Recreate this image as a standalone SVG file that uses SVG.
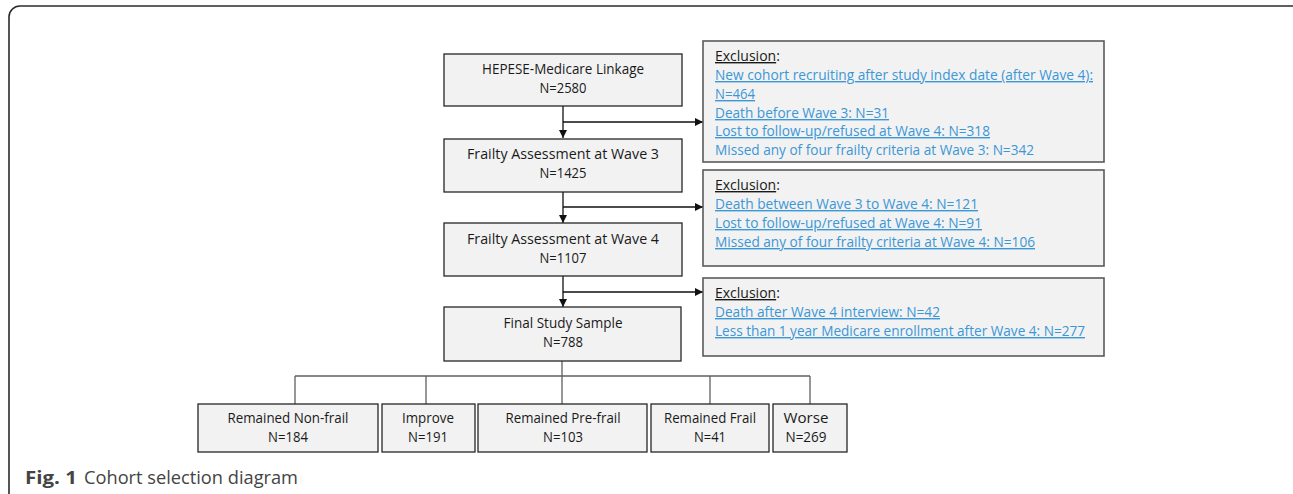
<svg xmlns="http://www.w3.org/2000/svg" width="1293" height="494" viewBox="0 0 1293 494">
<style>
.frame{fill:#fff;stroke:#2b2b2b;stroke-width:1.6}
.box{fill:#f2f2f2;stroke:#262626;stroke-width:1.3}
.xbox{fill:#f2f2f2;stroke:#5a5a5a;stroke-width:1.6}
.t{font-family:"Open Sans","Liberation Sans",sans-serif;font-size:14px;fill:#1a1a1a;text-anchor:middle}
.x{font-family:"Open Sans","Liberation Sans",sans-serif;font-size:14px;fill:#3b97d6}
.u{text-decoration:underline}
.k{fill:#1a1a1a}
.arr{fill:none;stroke:#111;stroke-width:1.3}
.tree{fill:none;stroke:#5f5f5f;stroke-width:1.3}
.cap{font-family:"Open Sans","Liberation Sans",sans-serif;font-size:18px;fill:#444}
</style>
<defs>
<marker id="ah" viewBox="0 0 10 10" refX="10" refY="5" markerWidth="8" markerHeight="8" markerUnits="userSpaceOnUse" orient="auto">
<path d="M0,0 L10,5 L0,10 z" fill="#111"/>
</marker>
</defs>
<rect class="frame" x="9" y="6" width="1300" height="500" rx="11"/>
<g id="connectors">
<line class="arr" x1="563" y1="106" x2="563" y2="138" marker-end="url(#ah)"/>
<line class="arr" x1="563" y1="122" x2="703" y2="122" marker-end="url(#ah)"/>
<line class="arr" x1="563" y1="192" x2="563" y2="223" marker-end="url(#ah)"/>
<line class="arr" x1="563" y1="207" x2="703" y2="207" marker-end="url(#ah)"/>
<line class="arr" x1="563" y1="276" x2="563" y2="307" marker-end="url(#ah)"/>
<line class="arr" x1="563" y1="292" x2="703" y2="292" marker-end="url(#ah)"/>
<line class="tree" x1="562" y1="361" x2="562" y2="404"/>
<line class="tree" x1="295" y1="376" x2="810" y2="376"/>
<line class="tree" x1="295" y1="376" x2="295" y2="404"/>
<line class="tree" x1="426" y1="376" x2="426" y2="404"/>
<line class="tree" x1="710" y1="376" x2="710" y2="404"/>
<line class="tree" x1="810" y1="376" x2="810" y2="404"/>
</g>
<g id="linkage">
<rect class="box" x="444" y="54" width="238" height="52"/>
<text class="t" x="563" y="74" textLength="162" lengthAdjust="spacingAndGlyphs">HEPESE-Medicare Linkage</text>
<text class="t" x="563" y="93" textLength="47" lengthAdjust="spacingAndGlyphs">N=2580</text>
</g>
<g id="wave3">
<rect class="box" x="444" y="139" width="238" height="53"/>
<text class="t" x="563" y="159" textLength="192" lengthAdjust="spacingAndGlyphs">Frailty Assessment at Wave 3</text>
<text class="t" x="563" y="178" textLength="47" lengthAdjust="spacingAndGlyphs">N=1425</text>
</g>
<g id="wave4">
<rect class="box" x="444" y="223" width="238" height="53"/>
<text class="t" x="563" y="244" textLength="192" lengthAdjust="spacingAndGlyphs">Frailty Assessment at Wave 4</text>
<text class="t" x="563" y="263" textLength="47" lengthAdjust="spacingAndGlyphs">N=1107</text>
</g>
<g id="final">
<rect class="box" x="444" y="307" width="237" height="54"/>
<text class="t" x="563" y="328" textLength="119" lengthAdjust="spacingAndGlyphs">Final Study Sample</text>
<text class="t" x="563" y="347" textLength="40" lengthAdjust="spacingAndGlyphs">N=788</text>
</g>
<g id="excl1">
<rect class="xbox" x="703" y="41" width="401" height="121"/>
<text class="x" x="715" y="61"><tspan class="k u">Exclusion</tspan><tspan class="k">:</tspan></text>
<text class="x u" x="715" y="80" textLength="378" lengthAdjust="spacingAndGlyphs">New cohort recruiting after study index date (after Wave 4):</text>
<text class="x u" x="715" y="99" textLength="40" lengthAdjust="spacingAndGlyphs">N=464</text>
<text class="x u" x="715" y="118" textLength="174" lengthAdjust="spacingAndGlyphs">Death before Wave 3: N=31</text>
<text class="x u" x="715" y="136" textLength="275" lengthAdjust="spacingAndGlyphs">Lost to follow-up/refused at Wave 4: N=318</text>
<text class="x" x="715" y="155" textLength="319" lengthAdjust="spacingAndGlyphs">Missed any of four frailty criteria at Wave 3: N=342</text>
</g>
<g id="excl2">
<rect class="xbox" x="703" y="170" width="401" height="96"/>
<text class="x" x="715" y="190"><tspan class="k u">Exclusion</tspan><tspan class="k">:</tspan></text>
<text class="x u" x="715" y="209" textLength="263" lengthAdjust="spacingAndGlyphs">Death between Wave 3 to Wave 4: N=121</text>
<text class="x u" x="715" y="228" textLength="267" lengthAdjust="spacingAndGlyphs">Lost to follow-up/refused at Wave 4: N=91</text>
<text class="x u" x="715" y="247" textLength="320" lengthAdjust="spacingAndGlyphs">Missed any of four frailty criteria at Wave 4: N=106</text>
</g>
<g id="excl3">
<rect class="xbox" x="703" y="278" width="401" height="78"/>
<text class="x" x="715" y="298"><tspan class="k u">Exclusion</tspan><tspan class="k">:</tspan></text>
<text class="x u" x="715" y="317" textLength="225" lengthAdjust="spacingAndGlyphs">Death after Wave 4 interview: N=42</text>
<text class="x u" x="715" y="336" textLength="370" lengthAdjust="spacingAndGlyphs">Less than 1 year Medicare enrollment after Wave 4: N=277</text>
</g>
<g id="nonfrail">
<rect class="box" x="198" y="404" width="180" height="48"/>
<text class="t" x="288" y="423" textLength="121" lengthAdjust="spacingAndGlyphs">Remained Non-frail</text>
<text class="t" x="288" y="442" textLength="40" lengthAdjust="spacingAndGlyphs">N=184</text>
</g>
<g id="improve">
<rect class="box" x="382" y="404" width="93" height="48"/>
<text class="t" x="428" y="423" textLength="52" lengthAdjust="spacingAndGlyphs">Improve</text>
<text class="t" x="428" y="442" textLength="40" lengthAdjust="spacingAndGlyphs">N=191</text>
</g>
<g id="prefrail">
<rect class="box" x="478" y="404" width="169" height="48"/>
<text class="t" x="563" y="423" textLength="115" lengthAdjust="spacingAndGlyphs">Remained Pre-frail</text>
<text class="t" x="563" y="442" textLength="40" lengthAdjust="spacingAndGlyphs">N=103</text>
</g>
<g id="frail">
<rect class="box" x="651" y="404" width="118" height="48"/>
<text class="t" x="710" y="423" textLength="92" lengthAdjust="spacingAndGlyphs">Remained Frail</text>
<text class="t" x="710" y="442" textLength="32" lengthAdjust="spacingAndGlyphs">N=41</text>
</g>
<g id="worse">
<rect class="box" x="773" y="404" width="74" height="48"/>
<text class="t" x="806" y="423" textLength="45" lengthAdjust="spacingAndGlyphs">Worse</text>
<text class="t" x="806" y="442" textLength="41" lengthAdjust="spacingAndGlyphs">N=269</text>
</g>
<text class="cap" x="25" y="484" font-weight="bold" fill="#222" textLength="52" lengthAdjust="spacingAndGlyphs">Fig. 1</text>
<text class="cap" x="84" y="484" textLength="214" lengthAdjust="spacingAndGlyphs">Cohort selection diagram</text>
</svg>
